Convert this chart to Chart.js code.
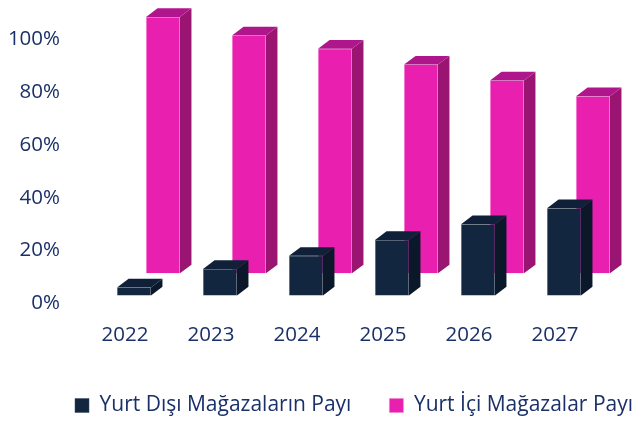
<!DOCTYPE html>
<html><head><meta charset="utf-8">
<style>html,body{margin:0;padding:0;background:#fff}#w{width:634px;height:424px;position:relative}</style>
<script src="https://cdn.jsdelivr.net/npm/chart.js@4"></script>
</head><body><div id="w"><canvas id="c"></canvas></div>
<script>
const years = ['2022','2023','2024','2025','2026','2027'];
const foreignShare = [3,10,15,21,27,33];
const domesticShare = [97,90,85,79,73,67];
const yTicks = [0,20,40,60,80,100];
const foreignName = 'Yurt Dışı Mağazaların Payı';
const domesticName = 'Yurt İçi Mağazalar Payı';
const textColor = '#1a3068';
const fontFamily = '"Open Sans", sans-serif';

const DEPTH_X = 11.5, DEPTH_Y = 8.7;
const faces = {
  0: {top:'#0f2038', side:'#0a1829'},
  1: {top:'#b0168c', side:'#9a1472'}
};
const box3d = {
  id:'box3d',
  afterDatasetDraw(chart, args){
    const f = faces[args.index];
    const ctx = chart.ctx;
    ctx.save();
    chart.getDatasetMeta(args.index).data.forEach(b=>{
      const p = b.getProps(['x','y','base','width'], true);
      const l = p.x-p.width/2, r = p.x+p.width/2;
      ctx.fillStyle = f.side;
      ctx.beginPath();
      ctx.moveTo(r,p.y);ctx.lineTo(r+DEPTH_X,p.y-DEPTH_Y);
      ctx.lineTo(r+DEPTH_X,p.base-DEPTH_Y);ctx.lineTo(r,p.base);
      ctx.closePath();ctx.fill();
      ctx.fillStyle = f.top;
      ctx.beginPath();
      ctx.moveTo(l,p.y);ctx.lineTo(l+DEPTH_X,p.y-DEPTH_Y);
      ctx.lineTo(r+DEPTH_X,p.y-DEPTH_Y);ctx.lineTo(r,p.y);
      ctx.closePath();ctx.fill();
    });
    ctx.restore();
  }
};

new Chart(document.getElementById('c'),{
  type:'bar',
  plugins:[box3d],
  data:{labels:years,datasets:[
    {label:foreignName,data:foreignShare,backgroundColor:'#12263f',borderColor:'#3a4a60',borderWidth:0.5,
     yAxisID:'yFront',clip:false,barPercentage:1.17,categoryPercentage:0.674},
    {label:domesticName,data:domesticShare,backgroundColor:'#e91fb0',borderColor:'#f27ccf',borderWidth:0.5,
     yAxisID:'yBack',clip:false,barPercentage:1.17,categoryPercentage:0.674}
  ]},
  options:{
    responsive:true,maintainAspectRatio:false,animation:false,
    layout:{padding:{top:0,right:-37,left:0,bottom:-2}},
    plugins:{
      tooltip:{enabled:false},
      legend:{position:'bottom',align:'end',
        labels:{boxWidth:14,boxHeight:14,padding:38,color:textColor,font:{family:fontFamily,size:21}}}
    },
    scales:{
      x:{grid:{display:false},border:{display:false},
        afterFit(s){s.height=53.5;},
        ticks:{color:textColor,font:{family:fontFamily,size:20.5},labelOffset:-23.5,padding:11,maxRotation:0}},
      y:{position:'left',min:0,max:96,
        grid:{display:false},border:{display:false},
        afterFit(s){s.width=105.5;},
        afterBuildTicks(s){s.ticks=yTicks.map(v=>({value:v}));},
        ticks:{color:textColor,font:{family:fontFamily,size:20.5},padding:37.5,callback:v=>v+'%'}},
      yFront:{display:false,min:-3.03,max:92.97},
      yBack:{position:'right',min:-11.4,max:84.6,grid:{display:false},border:{display:false},
        ticks:{display:false},afterFit(s){s.width=49.5;}}
    }
  }
});
</script></body></html>
